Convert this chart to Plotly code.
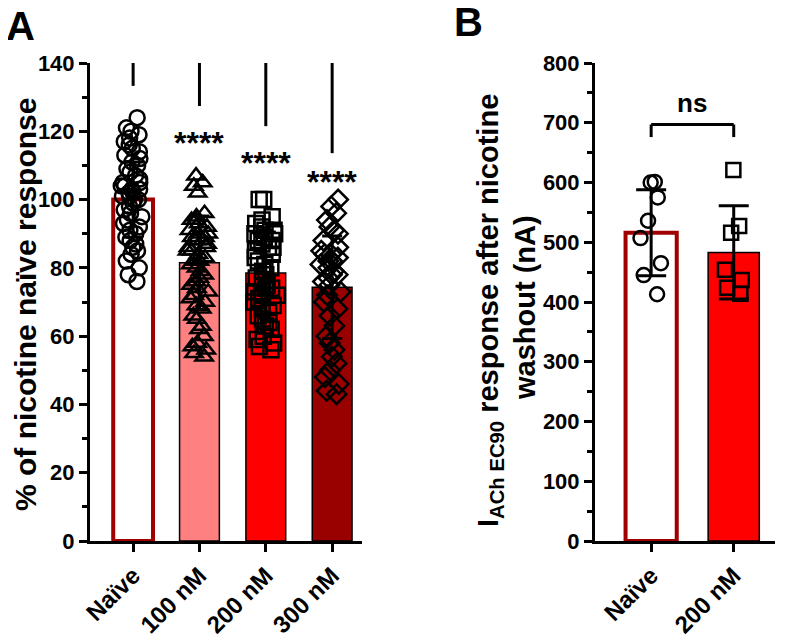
import plotly.graph_objects as go

# ---------------- Data: panel A ----------------
cats_a = ["Naïve", "100 nM", "200 nM", "300 nM"]
means_a = [100, 81.5, 78.5, 74.3]
sd_a = [11, 13.7, 12, 15]
naive_a = [124, 121, 120, 119, 118, 117, 116, 115, 114, 113, 112, 111, 110, 109, 108,
           107, 106, 105, 105, 104, 104, 103, 103, 102, 102, 101, 101, 100, 100, 99, 98,
           97, 96, 95, 94, 93, 92, 91, 90, 89, 88, 87, 86, 85, 84, 82, 80, 78, 76]
nm100_a = [107, 105, 104, 102, 96, 95, 94, 94, 93, 92, 91, 90, 90, 89, 89, 88, 88, 87,
           86, 86, 85, 85, 84, 83, 82, 82, 81, 80, 79, 78, 77, 76, 75, 74, 73, 72, 71, 70,
           69, 68, 66, 65, 63, 62, 60, 58, 57, 56, 55, 54]
nm200_a = [100, 100, 95, 94, 93, 92, 91, 91, 90, 90, 89, 88, 88, 87, 86, 86, 85, 84, 83,
           82, 81, 80, 79, 78, 77, 76, 75, 74, 74, 73, 73, 72, 72, 71, 70, 69, 68, 67, 66,
           65, 64, 63, 62, 60, 59, 58, 57, 56]
nm300_a = [100, 98, 96, 94, 92, 91, 90, 88, 86, 85, 84, 84, 83, 82, 82, 81, 80, 79, 78,
           78, 77, 76, 75, 73, 72, 70, 68, 66, 63, 60, 58, 56, 54, 52, 50, 48, 46, 44, 43]
points_a = [naive_a, nm100_a, nm200_a, nm300_a]
stars_a = ["", "****", "****", "****"]

# ---------------- Data: panel B ----------------
cats_b = ["Naïve", "200 nM"]
means_b = [516, 483]
sd_b = [72, 78]
naive_b = [600, 601, 575, 536, 507, 465, 445, 413]
nm200_b = [621, 527, 516, 454, 437, 414, 424]
points_b = [naive_b, nm200_b]

# ---------------- Styles ----------------
fills_a = ["white", "#FF8080", "#FF0000", "#990000"]
edges_a = ["#A00000", "black", "black", "black"]
edgew_a = [4, 1.5, 1.5, 1.5]
symbols_a = ["circle-open", "triangle-up-open", "square-open", "diamond-open"]
fills_b = ["white", "#FF0000"]
edges_b = ["#A00000", "black"]
edgew_b = [4, 1.5]
symbols_b = ["circle-open", "square-open"]

FONT = "Liberation Sans, Arial, sans-serif"
W, H = 791, 643

fig = go.Figure()

# Panel A bars
fig.add_trace(go.Bar(
    x=cats_a, y=means_a, width=0.6, xaxis="x", yaxis="y",
    marker=dict(color=fills_a, line=dict(color=edges_a, width=edgew_a)),
    error_y=dict(type="data", array=sd_a, color="black", thickness=3, width=10),
    hoverinfo="skip", showlegend=False))

for c, pts, sym in zip(cats_a, points_a, symbols_a):
    fig.add_trace(go.Box(
        x=[c] * len(pts), y=pts, xaxis="x", yaxis="y",
        boxpoints="all", jitter=0.7, pointpos=0, width=0.6,
        fillcolor="rgba(0,0,0,0)", line=dict(color="rgba(0,0,0,0)", width=0),
        marker=dict(symbol=sym, size=15, color="black",
                    line=dict(color="black", width=2.5)),
        hoverinfo="skip", showlegend=False))

# Panel B bars
fig.add_trace(go.Bar(
    x=cats_b, y=means_b, width=0.62, xaxis="x2", yaxis="y2",
    marker=dict(color=fills_b, line=dict(color=edges_b, width=edgew_b)),
    error_y=dict(type="data", array=sd_b, color="black", thickness=3, width=15),
    hoverinfo="skip", showlegend=False))

for c, pts, sym in zip(cats_b, points_b, symbols_b):
    fig.add_trace(go.Box(
        x=[c] * len(pts), y=pts, xaxis="x2", yaxis="y2",
        boxpoints="all", jitter=0.5, pointpos=0, width=0.62,
        fillcolor="rgba(0,0,0,0)", line=dict(color="rgba(0,0,0,0)", width=0),
        marker=dict(symbol=sym, size=14, color="black",
                    line=dict(color="black", width=2.5)),
        hoverinfo="skip", showlegend=False))

# significance brackets panel A
shapes = []
top_a = 140.7
drops_a = [133.3, 127.4, 121.5, 113.6]
shapes.append(dict(type="line", xref="x", yref="y", x0=cats_a[0], x1=cats_a[3],
                   y0=top_a, y1=top_a, line=dict(color="black", width=3)))
for c, d in zip(cats_a, drops_a):
    shapes.append(dict(type="line", xref="x", yref="y", x0=c, x1=c, y0=top_a, y1=d,
                       line=dict(color="black", width=3)))
# bracket panel B
top_b = 697
drop_b = 676
shapes.append(dict(type="line", xref="x2", yref="y2", x0=cats_b[0], x1=cats_b[1],
                   y0=top_b, y1=top_b, line=dict(color="black", width=3)))
for c in cats_b:
    shapes.append(dict(type="line", xref="x2", yref="y2", x0=c, x1=c, y0=top_b, y1=drop_b,
                       line=dict(color="black", width=3)))

annotations = []
star_y = [0, 116.7, 110.7, 105.2]
for c, s, yv in zip(cats_a, stars_a, star_y):
    if s:
        annotations.append(dict(x=c, y=yv, xref="x", yref="y", text=s, showarrow=False,
                                font=dict(family=FONT, size=32, color="black", weight="bold"),
                                yanchor="middle"))
annotations.append(dict(x=0.5, y=733, xref="x2", yref="y2", text="ns", showarrow=False,
                        font=dict(family=FONT, size=26, color="black", weight="bold")))
# panel letters
annotations.append(dict(x=0.0, y=1.0, xref="paper", yref="paper", text="A", showarrow=False,
                        xanchor="left", yanchor="top", xshift=-4, yshift=6,
                        font=dict(family=FONT, size=40, color="black", weight="bold")))
annotations.append(dict(x=456 / W, y=1.0, xref="paper", yref="paper", text="B",
                        showarrow=False, xanchor="left", yanchor="top", xshift=-12, yshift=10,
                        font=dict(family=FONT, size=40, color="black", weight="bold")))
# y titles
annotations.append(dict(x=17 / W, y=(H - 297) / H, xref="paper", yref="paper",
                        xanchor="center", yanchor="middle",
                        text="% of nicotine naïve response", textangle=-90,
                        showarrow=False,
                        font=dict(family=FONT, size=30, color="black", weight="bold")))
annotations.append(dict(x=482 / W, y=(H - 303) / H, xref="paper", yref="paper",
                        xanchor="center", yanchor="middle",
                        text="I<sub>ACh EC90</sub> response after nicotine",
                        textangle=-90, showarrow=False,
                        font=dict(family=FONT, size=29, color="black", weight="bold")))
annotations.append(dict(x=517 / W, y=(H - 300) / H, xref="paper", yref="paper",
                        xanchor="center", yanchor="middle",
                        text="washout (nA)",
                        textangle=-90, showarrow=False,
                        font=dict(family=FONT, size=29, color="black", weight="bold")))

axis_common = dict(showline=True, linewidth=3, linecolor="black", ticks="outside",
                   ticklen=8, tickwidth=3, tickcolor="black", showgrid=False,
                   zeroline=False, automargin=False)
ytickfont = dict(family=FONT, size=22, color="black", weight="bold")
xtickfont = dict(family=FONT, size=24, color="black", weight="bold")

ydom = [110 / H, 588 / H]
fig.update_layout(
    width=W, height=H, margin=dict(l=0, r=0, t=0, b=0, autoexpand=False),
    paper_bgcolor="white", plot_bgcolor="white",
    barmode="overlay", boxmode="overlay",
    shapes=shapes, annotations=annotations,
    xaxis=dict(domain=[82 / W, 354 / W], anchor="y", type="category",
               range=[-0.65, 3.45], tickangle=-45, tickfont=xtickfont, **axis_common),
    yaxis=dict(domain=ydom, anchor="x", range=[0, 140], dtick=20,
               tickfont=ytickfont,
               minor=dict(dtick=10, ticks="outside", ticklen=5, tickwidth=3,
                          tickcolor="black"),
               **axis_common),
    xaxis2=dict(domain=[587 / W, 767 / W], anchor="y2", type="category",
                range=[-0.68, 1.5], tickangle=-45, tickfont=xtickfont, **axis_common),
    yaxis2=dict(domain=ydom, anchor="x2", range=[0, 800], dtick=100,
                tickfont=ytickfont,
                minor=dict(dtick=50, ticks="outside", ticklen=5, tickwidth=3,
                           tickcolor="black"),
                **axis_common),
)

fig.write_html("out.html")
